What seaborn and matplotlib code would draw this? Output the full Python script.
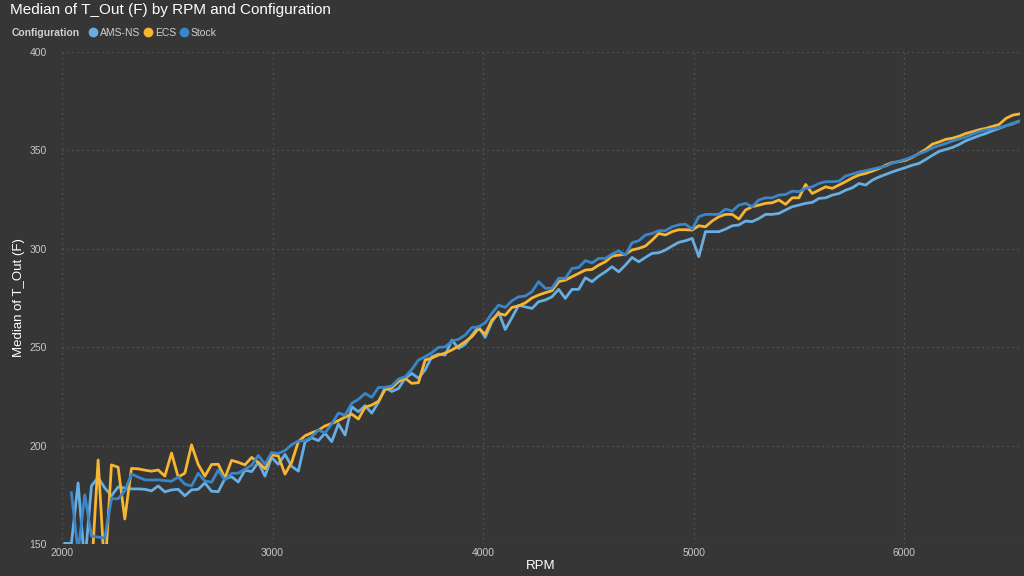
import matplotlib
matplotlib.use("Agg")
import matplotlib.pyplot as plt
from matplotlib.lines import Line2D
import seaborn as sns
import numpy as np
import pandas as pd

# RPM bins (about 31.7 rpm apart)
rpm = np.round(np.arange(2013, 6590, 31.7), 1)

ams_ns = [150.3, 150.3, 181, 140, 179.5, 183.8, 178.5, 174.5, 179, 178.5,
          178, 178, 177.8, 177, 179.5, 176.5, 177.5, 177.8, 174.5, 177.5,
          177.8, 181, 176.8, 176.6, 183.2, 184.2, 181.5, 187.5, 186.8, 191.5,
          184.5, 194, 190.5, 195.5, 189.5, 187, 201.8, 204, 202.5, 206.3,
          202, 211, 205.4, 219.8, 217.2, 220.3, 216.5, 222, 229.5, 227.5,
          229, 234.2, 236.7, 234.2, 238.5, 245.2, 246.5, 246, 253.6, 249.4,
          251.5, 256.2, 260.4, 255, 262.8, 267.9, 259, 265, 271.3, 270.5,
          269.7, 273.1, 274, 275.6, 279.4, 274.8, 279.4, 279.4, 285.3, 283.3,
          286.1, 288.3, 290.9, 288.3, 291.7, 295.6, 293.4, 295.6, 297.7, 298,
          299.4, 301.4, 303.3, 304.1, 305.3, 296, 308.7, 308.7, 308.7, 310,
          311.7, 312.1, 314.1, 313.8, 315.4, 317.5, 317.5, 318, 319.7, 321.4,
          322.2, 323.1, 323.6, 325.6, 325.9, 327.3, 328.1, 329.8, 331, 333.2,
          332.4, 334.9, 336.5, 337.8, 339.1, 340.2, 341.3, 342.5, 343.4, 345.4,
          347.5, 349.5, 350.5, 351.5, 353, 354.9, 356.2, 357.5, 358.6, 360,
          361.2, 362.5, 363.5, 364.8, 365.8]

ecs = [np.nan, np.nan, np.nan, np.nan, 135, 192.7, 135, 190.2, 189, 162.7,
       188.4, 188.2, 187.5, 187, 187.6, 184.5, 196.2, 184, 186, 200.4,
       190.4, 184.5, 190.4, 190.5, 183.5, 192.5, 191.5, 190.2, 194, 191.5,
       188.2, 195.2, 194.8, 185.5, 191.5, 202, 205, 206.5, 207.8, 210,
       211.2, 212.7, 214.5, 216, 213.5, 219.5, 220.6, 222.5, 228.5, 229.3,
       232.5, 234.2, 231.6, 232, 243.5, 244.5, 246, 247, 248.6, 250.5,
       252.8, 255.3, 259.5, 256.6, 263.8, 267.1, 266.3, 270.2, 271, 272.5,
       275, 276.5, 277.7, 278.7, 283.3, 284.1, 285.8, 287.5, 289.2, 289.5,
       291.7, 293.4, 296.3, 296.8, 297.2, 299.4, 300.2, 301.4, 304.4, 307.8,
       307, 308.7, 309.7, 309.7, 309.5, 311.7, 311.2, 314.1, 316.3, 317.5,
       317.5, 315.1, 319.7, 321.4, 322.2, 323.1, 323.4, 324.8, 322.6, 325.9,
       325.9, 332.7, 328.1, 329.8, 331.5, 330.7, 332.4, 334.1, 336, 337.5,
       338.3, 339.5, 340.8, 342.5, 343.8, 344.3, 345, 346.5, 348.5, 350.5,
       353.2, 354.3, 355.6, 356.2, 357.2, 358.6, 359.5, 360.5, 361.2, 362.2,
       363.2, 366.2, 367.9, 368.5, 369.5]

stock = [np.nan, 176, 146, 175, 154, 153.5, 153, 173, 173, 177,
         185.5, 184, 182.6, 182.5, 182.6, 182.2, 181.9, 184, 180.4, 179.5,
         185.9, 182, 181.4, 187.5, 182.5, 185.9, 186, 188, 190, 195,
         190.5, 196.5, 196, 197.5, 200.5, 202.3, 202.5, 204.5, 207.9, 206.5,
         211, 216.5, 215.5, 221.5, 223.5, 226.5, 224.5, 229.5, 229.6, 230.3,
         233.8, 235, 238.7, 243.5, 245.2, 247.2, 249.9, 250.2, 253.1, 254,
         256.2, 260, 260.3, 262.4, 267.2, 271.4, 270.2, 273.6, 275.6, 276,
         278.2, 283.3, 279.9, 280, 285, 285, 290, 290.5, 294, 292.8,
         295.1, 295.1, 297.3, 299, 296.8, 303.1, 304.1, 307, 307.8, 309.2,
         309.2, 311.2, 312.2, 312.5, 310, 316.3, 317.5, 317.5, 317.5, 320.2,
         319.2, 322.2, 323.1, 321.4, 324.8, 325.9, 325.9, 327.3, 327.6, 329.3,
         329, 330.7, 331.5, 333.2, 334.1, 334.1, 334.4, 337, 338, 339,
         339.7, 340.5, 341.3, 342, 343.5, 344.5, 345.5, 346.8, 348.3, 349.5,
         351.3, 352.5, 353.5, 354.8, 355.8, 356.8, 358.2, 359.5, 360.4, 361,
         361.6, 362.5, 363.8, 364.9, 366]

configs = ["AMS-NS", "ECS", "Stock"]
colors = {"AMS-NS": "#67AFE2", "ECS": "#F6B533", "Stock": "#3A86C8"}

df = pd.concat([
    pd.DataFrame({"RPM": rpm, "T_Out": vals, "Configuration": name})
    for name, vals in zip(configs, [ams_ns, ecs, stock])
], ignore_index=True)

bg = "#363636"
plt.rcParams["font.family"] = ["Liberation Sans", "DejaVu Sans"]

fig = plt.figure(figsize=(10.24, 5.76), dpi=100, facecolor=bg)
ax = fig.add_axes([62 / 1024, 1 - 544 / 576, (1020 - 62) / 1024, (544 - 52) / 576])
ax.set_facecolor(bg)

sns.lineplot(data=df, x="RPM", y="T_Out", hue="Configuration", hue_order=configs,
             palette=colors, linewidth=2.0, legend=False, ax=ax)

ax.set_xlim(2000, 6550)
ax.set_ylim(150, 400)
ax.set_xticks([2000, 3000, 4000, 5000, 6000])
ax.set_yticks([150, 200, 250, 300, 350, 400])
ax.grid(True, color="#5c5c5c", linestyle=(0, (1, 3)), linewidth=0.9)
ax.set_axisbelow(True)
for s in ax.spines.values():
    s.set_visible(False)
ax.tick_params(length=0, colors="#c8c8c8", labelsize=7.5)
ax.tick_params(axis="y", pad=11)
ax.tick_params(axis="x", pad=3)
ax.set_xlabel("RPM", color="white", fontsize=9.5)
ax.set_ylabel("Median of T_Out (F)", color="white", fontsize=9.5)
ax.xaxis.set_label_coords(0.5, -0.033)
ax.yaxis.set_label_coords(-0.039, 0.5)

fig.text(10 / 1024, 1 - 3 / 576, "Median of T_Out (F) by RPM and Configuration",
         color="white", fontsize=11, va="top", ha="left")
fig.text(12 / 1024, 1 - 33 / 576, "Configuration", color="#d0d0d0",
         fontsize=7.5, fontweight="bold", va="center", ha="left")

handles = [Line2D([], [], marker="o", linestyle="", color=colors[c], markersize=6)
           for c in configs]
fig.legend(handles, configs, loc="center left", bbox_to_anchor=(83 / 1024, 1 - 33 / 576),
           ncol=3, frameon=False, fontsize=7.5, labelcolor="#d0d0d0",
           handletextpad=0.1, columnspacing=0.3, handlelength=1.0, borderpad=0)

fig.savefig("out.png", dpi=100, facecolor=bg)
